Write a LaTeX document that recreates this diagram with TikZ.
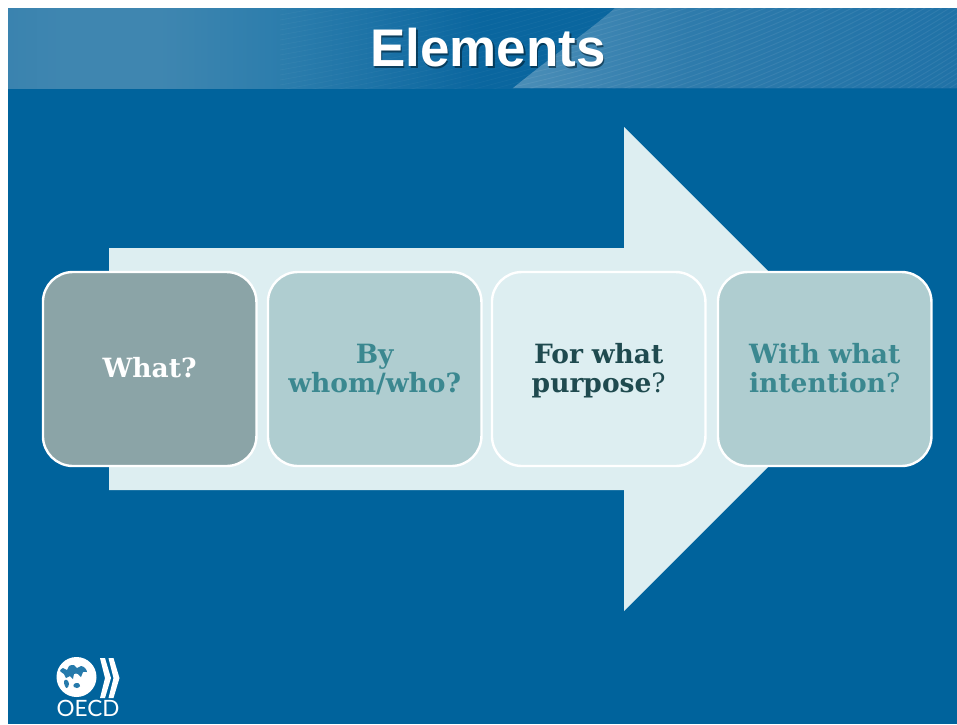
\documentclass[tikz,border=0pt]{standalone}
\usepackage{fontspec}
\setmainfont{DejaVu Serif}
\newfontfamily\titlefont{Liberation Sans}
\newfontfamily\logofont{Lato}
\definecolor{slideblue}{HTML}{00639C}
\definecolor{arrowpale}{HTML}{DDEEF1}
\definecolor{boxgrey}{HTML}{8BA4A7}
\definecolor{boxteal}{HTML}{AFCDD0}
\definecolor{tealtext}{HTML}{3B8890}
\definecolor{darktext}{HTML}{1F4A4F}
\definecolor{bandA}{HTML}{3A83AF}
\definecolor{bandB}{HTML}{3F86B0}
\definecolor{bandC}{HTML}{2A7CAC}
\definecolor{bandD}{HTML}{0A669F}
\definecolor{panelA}{HTML}{4B8EB7}
\definecolor{panelB}{HTML}{2E7BAC}
\definecolor{panelC}{HTML}{2072A7}
\pgfdeclarehorizontalshading{bandshade}{100bp}{
  color(0bp)=(bandA); color(25bp)=(bandA); color(28bp)=(bandB); color(33bp)=(bandB); color(40bp)=(bandC); color(50bp)=(bandD); color(100bp)=(bandD)}
\pgfdeclarehorizontalshading{panelshade}{100bp}{
  color(0bp)=(panelA); color(25bp)=(panelA); color(45bp)=(panelB); color(75bp)=(panelC); color(100bp)=(panelC)}
\newcommand{\linetop}{\rule{0pt}{24pt}}
\newcommand{\linebot}{\rule[-7pt]{0pt}{7pt}}
\tikzset{
  stepbox/.style={draw=white,line width=2.4pt,rounded corners=30pt,minimum width=213.5pt,minimum height=194pt,inner sep=0pt,align=center,text width=200pt,font=\fontsize{26.5}{29}\selectfont\bfseries},
  landmass/.style={fill=slideblue!85!white,draw=none},
  chevron/.style={fill=white,draw=none},
}
\begin{document}
\begin{tikzpicture}[x=1pt,y=-1pt]
\useasboundingbox (0,0) rectangle (957,724);
\fill[white] (0,0) rectangle (957,724);
\fill[slideblue] (8,8) rectangle (957,724);
% header band
\shade[shading=bandshade] (8,8) rectangle (957,88);
\begin{scope}
\clip (8,8) rectangle (957,88);
\foreach \i in {0,5,...,330}
  \draw[white,opacity=.04,line width=.7pt] (280,\i) .. controls (420,{\i-25}) and (520,{\i-50}) .. (640,{\i-90});
\end{scope}
\begin{scope}
\clip (513,88) .. controls (560,50) and (590,30) .. (615,8) -- (957,8) -- (957,88) -- cycle;
\shade[shading=panelshade] (513,8) rectangle (957,88);
\foreach \i in {0,5,...,480}
  \draw[white,opacity=.07,line width=.9pt] (500,\i) .. controls (680,{\i-40}) and (840,{\i-100}) .. (1000,{\i-210});
\end{scope}
% arrow
\fill[arrowpale] (109,248) -- (624,248) -- (624,127) -- (866,369) -- (624,611) -- (624,490) -- (109,490) -- cycle;
\node[stepbox,fill=boxgrey,text=white] (what) at (149.7,369) {\linetop What?\linebot};
\node[stepbox,fill=boxteal,text=tealtext] (whom) at (374.7,369) {\linetop By\\whom/who?\linebot};
\node[stepbox,fill=arrowpale,text=darktext] (purpose) at (598.7,369) {\linetop For what\\purpose{\mdseries ?}\linebot};
\node[stepbox,fill=boxteal,text=tealtext] (intent) at (824.7,369) {\linetop With what\\intention{\mdseries ?}\linebot};
% title
\node[font=\titlefont\fontsize{53}{56}\selectfont\bfseries,text=black!70!slideblue,opacity=.6] (titleshadow) at (489.5,49.5) {Elements};
\node[font=\titlefont\fontsize{53}{56}\selectfont\bfseries,text=white] (title) at (488,48) {Elements};
% logo
\fill[white] (76.5,677) circle (20);
\fill[landmass] plot[smooth cycle,tension=.6] coordinates {(60,671) (63,668) (67,670) (69,666) (74,665) (77,668) (81,666) (85,668) (87,672) (83,672) (81,677) (78,674) (74,674) (73,679) (70,676) (66,678) (64,674)};
\fill[landmass] plot[smooth cycle,tension=.7] coordinates {(64,681) (67,680) (69,684) (67,688) (65,686)};
\fill[landmass] plot[smooth cycle,tension=.7] coordinates {(74,684) (78,683) (80,686) (77,688) (74,687)};
\fill[chevron] (100,658) -- (105,658) -- (111,678) -- (105,698) -- (100,698) -- (105,678) -- cycle;
\fill[chevron] (108.5,658) -- (113.5,658) -- (119.5,678) -- (113.5,698) -- (108.5,698) -- (113.5,678) -- cycle;
\node[font=\logofont\fontsize{22.5}{24}\selectfont,text=white,inner sep=0pt] (oecd) at (88,708.5) {OECD};
\end{tikzpicture}
\end{document}
